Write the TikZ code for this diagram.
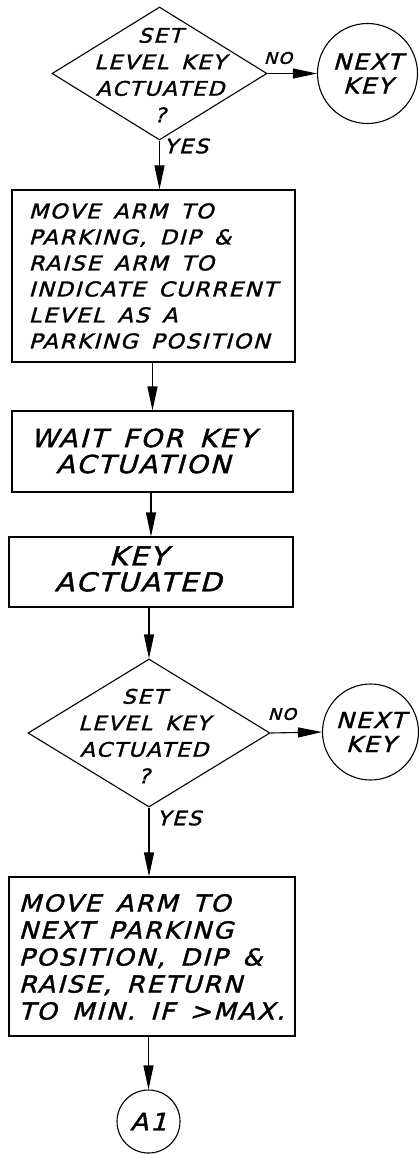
\documentclass[tikz,border=0pt]{standalone}
\usepackage{fontspec}
\newfontfamily\hand[FakeStretch=1.1,LetterSpace=8,WordSpace=1.5,FakeSlant=0.28,FakeBold=1.5]{DejaVu Sans}
\usetikzlibrary{shapes.geometric,arrows.meta}
\begin{document}
\begin{tikzpicture}[x=1pt,y=-1pt,
  line width=1.1pt,
  proc/.style={draw, rectangle, inner sep=0pt},
  decide/.style={draw, diamond, inner sep=0pt},
  conn/.style={draw, circle, inner sep=0pt, align=center, font=\hand\fontsize{22}{24}\selectfont},
  txt/.style={inner sep=0pt, font=\hand\fontsize{20.5}{26}\selectfont},
  dtxt/.style={inner sep=0pt, align=center, font=\hand\fontsize{20}{26.5}\selectfont},
  mid/.style={inner sep=0pt, align=center, font=\hand\fontsize{25}{26}\selectfont},
  big/.style={inner sep=0pt, font=\hand\fontsize{23.5}{27}\selectfont},
  tag/.style={inner sep=0pt, font=\hand\fontsize{20}{20}\selectfont},
  smalltag/.style={inner sep=0pt, font=\hand\fontsize{16}{16}\selectfont},
  flow/.style={-{Triangle[length=24pt,width=10pt]}}]
\useasboundingbox (0,0) rectangle (419,1155);

% first decision
\node[decide, minimum width=215pt, minimum height=133pt] (d1) at (159.5,73.5) {};
\node[dtxt] (d1t) at (160,75) {SET\\LEVEL KEY\\ACTUATED\\?};
\node[conn, minimum size=100pt] (n1) at (367.5,73.5) {NEXT\\KEY};
\node[smalltag] (no1) at (278,58) {NO};
\draw[flow] (d1.east) -- (n1.west);
\node[tag] (y1) at (186,146) {YES};

% box 1
\node[proc, minimum width=283pt, minimum height=172pt] (b1) at (153.5,276) {};
\node[txt, align=left, anchor=west] (b1t) at (28,276) {MOVE ARM TO\\PARKING, DIP \&\\RAISE ARM TO\\INDICATE CURRENT\\LEVEL AS A\\PARKING POSITION};
\draw[flow] (d1.south) -- (d1.south |- b1.north);

% box 2
\node[proc, minimum width=281pt, minimum height=81pt] (b2) at (152.5,451.5) {};
\node[mid] (b2t) at (143,451) {WAIT FOR KEY\\ACTUATION};
\draw[flow] (b2.north |- b1.south) -- (b2.north);

% box 3
\node[proc, minimum width=284pt, minimum height=70pt] (b3) at (151,572) {};
\node[mid, font=\hand\fontsize{26}{26}\selectfont] (b3t) at (138,569) {KEY\\ACTUATED};
\draw[flow] (b3.north |- b2.south) -- (b3.north);

% second decision
\node[decide, minimum width=242pt, minimum height=148pt] (d2) at (149,733) {};
\node[dtxt] (d2t) at (144,736) {SET\\LEVEL KEY\\ACTUATED\\?};
\draw[flow] (d2.north |- b3.south) -- (d2.north);
\node[conn, minimum size=96pt] (n2) at (370.5,732) {NEXT\\KEY};
\draw[flow] (d2.east) -- (n2.west);
\node[smalltag] (no2) at (282,714) {NO};
\node[tag] (y2) at (179,818) {YES};

% box 4
\node[proc, minimum width=286pt, minimum height=159pt] (b4) at (152,956.5) {};
\node[big, align=left, anchor=west] (b4t) at (18,957) {MOVE ARM TO\\NEXT PARKING\\POSITION, DIP \&\\RAISE, RETURN\\TO MIN. IF >MAX.};
\draw[flow] (d2.south) -- (d2.south |- b4.north);

% connector A1
\node[conn, minimum size=63pt, font=\hand\fontsize{24}{24}\selectfont] (a1) at (148.5,1121.5) {A1};
\draw[flow] (a1.north |- b4.south) -- (a1.north);
\end{tikzpicture}
\end{document}
